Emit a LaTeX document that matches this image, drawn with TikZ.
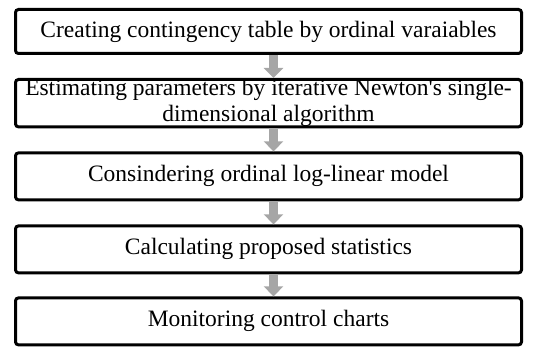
\documentclass[tikz,border=0pt]{standalone}
\usepackage{fontspec}
\newfontfamily\boxfont{Liberation Serif}
\usetikzlibrary{positioning,arrows.meta}

\tikzset{
  stepbox/.style={draw=black, line width=3pt, rounded corners=3pt, fill=white,
    minimum width=506pt, minimum height=47pt, inner sep=0pt, align=center,
    font=\boxfont\fontsize{23.5pt}{26pt}\selectfont},
  flowarrow/.style={draw={rgb,255:red,166;green,166;blue,166}, line width=9pt,
    -{Triangle[width=19pt,length=10pt]}}
}

\begin{document}
\begin{tikzpicture}
\useasboundingbox (0,0) rectangle (539pt,-350pt);
\node[stepbox, minimum height=44pt] (create) at (268.5pt,-31.5pt) {Creating contingency table by ordinal varaiables};
\node[stepbox, below=23pt of create] (estimate) {Estimating parameters by iterative Newton's single-\\dimensional algorithm};
\node[stepbox, below=23pt of estimate] (model) {Consindering ordinal log-linear model};
\node[stepbox, below=23pt of model] (stats) {Calculating proposed statistics};
\node[stepbox, below=22pt of stats] (charts) {Monitoring control charts};
\draw[flowarrow] ([xshift=5pt]create.south) -- ([xshift=5pt]estimate.north);
\draw[flowarrow] ([xshift=5pt]estimate.south) -- ([xshift=5pt]model.north);
\draw[flowarrow] ([xshift=5pt]model.south) -- ([xshift=5pt]stats.north);
\draw[flowarrow] ([xshift=5pt]stats.south) -- ([xshift=5pt]charts.north);
\end{tikzpicture}
\end{document}
